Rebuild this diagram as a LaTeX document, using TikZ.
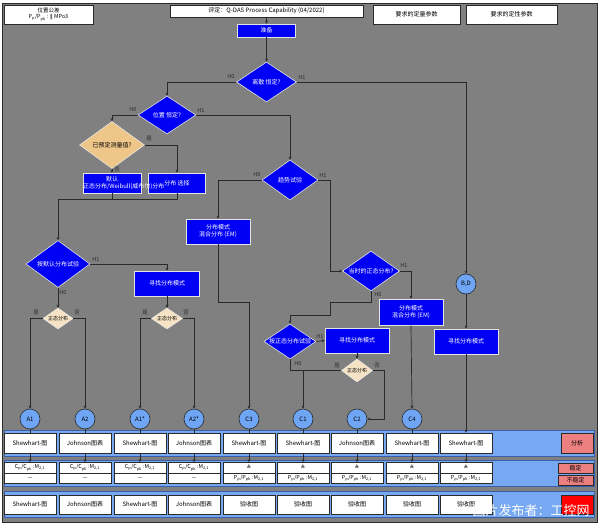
\documentclass[tikz,border=0pt]{standalone}
\usepackage{fontspec}
\setmainfont{Noto Sans CJK SC}
\newfontfamily\symf{DejaVu Sans}
\usetikzlibrary{shapes.geometric,arrows.meta}
\definecolor{bggrey}{HTML}{808080}
\definecolor{pblue}{HTML}{0000F5}
\definecolor{darkline}{HTML}{2A2A2A}
\definecolor{tanbig}{HTML}{EEC68A}
\definecolor{tansmall}{HTML}{F6E2C4}
\definecolor{circblue}{HTML}{6EA6F5}
\definecolor{bandblue}{HTML}{76A9F2}
\definecolor{bandedge}{HTML}{3A5FA8}
\definecolor{salmon}{HTML}{EC7F7F}
\definecolor{redbox}{HTML}{FF0000}
\newcommand{\zw}[1]{\makebox[0pt]{#1}}
\begin{document}
\begin{tikzpicture}[x=1pt,y=-1pt,font=\fontsize{6}{7}\selectfont,
  wh/.style 2 args={minimum width=#1pt,minimum height=#2pt},
  bluebox/.style={rectangle,draw=white!78!gray,line width=0.6pt,fill=pblue,text=white,inner sep=0pt,align=center},
  bluedia/.style={diamond,draw=white!78!gray,line width=0.6pt,fill=pblue,text=white,inner sep=0pt},
  tandia/.style={diamond,draw=white!85!gray,line width=0.5pt,fill=tanbig,text=black,inner sep=0pt},
  smalldia/.style={diamond,draw=white!85!gray,line width=0.5pt,fill=tansmall,text=black,inner sep=0pt,font=\fontsize{5}{6}\selectfont},
  whitebox/.style={rectangle,draw=darkline,line width=0.6pt,fill=white,text=black,inner sep=0pt,align=center},
  circ/.style={circle,draw=darkline,line width=0.6pt,fill=circblue,text=black,minimum size=20pt,inner sep=0pt},
  band/.style={draw=bandedge,line width=0.6pt,fill=bandblue},
  lbl/.style={text=darkline,inner sep=0pt,font=\fontsize{5.5}{6}\selectfont},
  ln/.style={draw=darkline,line width=0.7pt},
  arr/.style={draw=darkline,line width=0.7pt,-{Stealth[length=3pt,width=3pt]}}]
\useasboundingbox (0,0) rectangle (600,525);
\fill[white] (0,0) rectangle (600,525);
\draw[fill=bggrey,draw=darkline,line width=0.8pt] (2,3) rectangle (597,522);

% header
\node[whitebox,wh={89}{19},font=\fontsize{5.5}{6.5}\selectfont] (tol) at (48.5,14.5) {位置公差\\P\textsubscript{p}/P\textsubscript{pk} : {\symf ‖} MPo3};
\node[whitebox,wh={193}{12}] (title) at (266.5,11) {评定：Q-DAS Process Capability (04/2022)};
\node[whitebox,wh={87}{19}] (quant) at (416.5,14.5) {要求的定量参数};
\node[whitebox,wh={91}{19}] (qual) at (511.5,14.5) {要求的定性参数};

% flow
\node[bluebox,wh={58}{13}] (prep) at (266.5,30.5) {准备};
\node[bluedia,wh={60}{40}] (d1) at (266.5,82) {\zw{离散 恒定?}};
\node[bluedia,wh={58}{38}] (d2) at (167,115) {\zw{位置 恒定?}};
\node[tandia,wh={65}{47}] (d3) at (112,145) {\zw{已预定测量值?}};
\node[bluebox,wh={57}{20}] (b2) at (177,183) {分布 选择};
\node[bluebox,wh={58}{20}] (b1) at (112,183) {默认\\\makebox[0pt][l]{\hspace*{-29pt}正态分布/Weibull(威布尔)分布}};
\coordinate (j) at (58,199);
\node[bluedia,wh={64}{47}] (d5) at (58,264) {\zw{按默认分布试验}};
\node[bluebox,wh={65}{25}] (b4) at (167,283.5) {寻找分布模式};
\node[smalldia,wh={30}{21}] (t1) at (58,318.5) {\zw{正态分布}};
\node[smalldia,wh={31}{21}] (t2) at (167,318.5) {\zw{正态分布}};
\node[bluedia,wh={56}{40}] (d4) at (290,180) {\zw{趋势试验}};
\node[bluebox,wh={64}{25}] (b3) at (218,231.5) {分布模式\\混合分布 (EM)};
\coordinate (kC3) at (249,302);
\coordinate (m1) at (330,271);
\node[bluedia,wh={57}{40}] (d6) at (371,271) {\zw{当时的正态分布?}};
\node[bluebox,wh={64}{26}] (b5) at (411,312) {分布模式\\混合分布 (EM)};
\coordinate (n2) at (330,302);
\coordinate (n3) at (330,315);
\node[bluedia,wh={52}{35}] (d7) at (290,341.5) {\zw{按正态分布试验}};
\node[bluebox,wh={64}{25}] (b6) at (357,340.5) {寻找分布模式};
\node[smalldia,wh={31}{23}] (t3) at (357,370.5) {\zw{正态分布}};
\coordinate (q) at (303,370.5);
\coordinate (r) at (384,419);
\node[circ] (bd) at (466,284) {B,D};
\node[bluebox,wh={64}{25}] (b7) at (466,341.5) {寻找分布模式};

% bands
\draw[band] (4,430) rectangle (594,456);
\draw[band] (4,460) rectangle (594,486);
\draw[band] (4,491) rectangle (594,517);
\node[whitebox,wh={32}{20},fill=salmon] (ana) at (577,443) {分析};
\node[whitebox,wh={35}{10},fill=salmon] (stab) at (575.5,468) {稳定};
\node[whitebox,wh={35}{10},fill=salmon] (unstab) at (575.5,480) {不稳定};
\node[whitebox,wh={32}{19},fill=redbox] (redb) at (577,504.5) {};

\foreach \x/\a/\b [count=\i] in {30/Shewhart-图/Shewhart-图,85/Johnson图表/Johnson图表,140/Shewhart-图/Shewhart-图,194/Johnson图表/Johnson图表,249/Shewhart-图/验收图,303/Shewhart-图/验收图,357/Johnson图表/验收图,412/Shewhart-图/验收图,466/Shewhart-图/验收图}{
  \node[whitebox,wh={52}{20}] (s\i) at (\x,443) {\a};
  \node[whitebox,wh={52}{19}] (r\i) at (\x,504.5) {\b};
  \ifnum\i<5
    \node[whitebox,wh={52}{10.5},font=\fontsize{5.5}{6}\selectfont] (p\i) at (\x,467.75) {C\textsubscript{p}/C\textsubscript{pk} :M\textsubscript{2,1}};
    \node[whitebox,wh={52}{10.5},font=\fontsize{5.5}{6}\selectfont] (u\i) at (\x,478.25) {---};
  \else
    \node[whitebox,wh={52}{10.5},font=\fontsize{5.5}{6}\selectfont] (p\i) at (\x,467.75) {{\symf ≙}};
    \node[whitebox,wh={52}{10.5},font=\fontsize{5.5}{6}\selectfont] (u\i) at (\x,478.25) {P\textsubscript{p}/P\textsubscript{pk} :M\textsubscript{2,1}};
  \fi
  \draw[arr] (s\i.south) -- (p\i.north);
}
\foreach \x/\t [count=\i] in {30/A1,85/A2,140/A1*,194/A2*,249/C3,303/C1,357/C2,412/C4}{
  \node[circ] (c\i) at (\x,419) {\t};
  \draw[ln] (c\i.south) -- (s\i.north);
}

% connectors
\draw[arr] (title.south) -- (prep.north);
\draw[arr] (prep.south) -- (d1.north);
\draw[arr] (d1.west) -| (d2.north);
\draw[arr] (d1.east) -| (bd.north);
\draw[arr] (d2.west) -| (d3.north);
\draw[arr] (d2.east) -| (d4.north);
\draw[arr] (d3.south) -- (b1.north);
\draw[arr] (d3.east) -| (b2.north);
\draw[ln] (b1.south) |- (j);
\draw[ln] (b2.south) |- (j);
\draw[arr] (j) -- (d5.north);
\draw[arr] (d5.east) -| (b4.north);
\draw[arr] (d5.south) -- (t1.north);
\draw[arr] (b4.south) -- (t2.north);
\draw[arr] (t1.west) -| (c1.north);
\draw[arr] (t1.east) -| (c2.north);
\draw[arr] (t2.west) -| (c3.north);
\draw[arr] (t2.east) -| (c4.north);
\draw[arr] (d4.west) -| (b3.north);
\draw[arr] (b3.south) |- (kC3) -- (c5.north);
\draw[arr] (d4.east) -| (m1) -- (d6.west);
\draw[arr] (d6.east) -| (b5.north);
\draw[arr] (b5.south) -- (c8.north);
\draw[arr] (d6.south) |- (n2) -- (n3) -| (d7.north);
\draw[arr] (d7.east) -- (b6.west);
\draw[arr] (b6.south) -- (t3.north);
\draw[ln] (d7.south) |- (q);
\draw[arr] (t3.west) -| (c6.north);
\draw[arr] (t3.east) -| (r) -- (c7.east);
\draw[arr] (bd.south) -- (b7.north);
\draw[arr] (b7.south) -- (s9.north);

% labels
\node[lbl] (l1) at (231,77) {H0};
\node[lbl] (l2) at (302,77) {H1};
\node[lbl] (l3) at (133,110) {H0};
\node[lbl] (l4) at (201,110) {H1};
\node[lbl] (l5) at (149,139) {是};
\node[lbl] (l6) at (117,170) {否};
\node[lbl] (l7) at (257,175) {H0};
\node[lbl] (l8) at (323,175) {H1};
\node[lbl] (l9) at (96,259) {H1};
\node[lbl] (l10) at (63,293) {H0};
\node[lbl] (l11) at (36,313) {是};
\node[lbl] (l12) at (77,313) {否};
\node[lbl] (l13) at (145,313) {是};
\node[lbl] (l14) at (186,313) {否};
\node[lbl] (l15) at (404,265) {H1};
\node[lbl] (l16) at (378,295) {H0};
\node[lbl] (l17) at (320,336) {H1};
\node[lbl] (l18) at (298,364) {H0};
\node[lbl] (l19) at (337,366) {是};
\node[lbl] (l20) at (377,366) {否};

% watermark
\node[text=white,inner sep=0pt,font=\fontsize{13}{14}\selectfont] (wm) at (531,511) {图片发布者：工控网};
\end{tikzpicture}
\end{document}
